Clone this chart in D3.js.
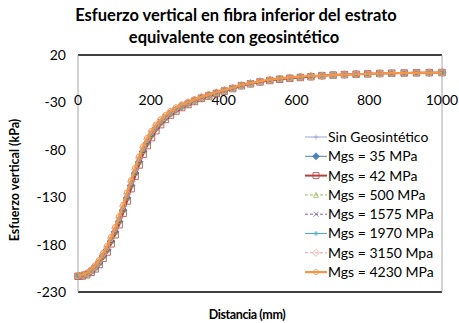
<!DOCTYPE html>
<html>
<head>
<meta charset="utf-8">
<script src="https://cdn.jsdelivr.net/npm/d3@7"></script>
<style>
  body { margin: 0; background: #fff; }
  svg { display: block; font-family: Lato, "Open Sans", sans-serif; }
</style>
</head>
<body>
<div id="chart"></div>
<script>
// distancia (mm) - nodos de la malla, mas densos cerca de la carga
const distancia = [0, 12, 24, 36, 47, 58, 69, 80, 91, 102, 113, 124, 135, 146, 157, 168, 179, 190, 202, 214,
  227, 240, 254, 269, 285, 302, 320, 339, 359, 380, 402, 425, 449, 474, 500, 527, 554, 582, 611, 640,
  670, 701, 732, 764, 796, 829, 862, 896, 930, 965, 1000];

const sinGeo = [-213.1, -212.7, -211.2, -208.3, -204.4, -199.5, -192.6, -185.7, -176.8, -166.9, -156, -144, -131, -118, -105, -93, -82, -72.9, -64.8, -57.7,
  -51.6, -46.5, -41.9, -37.9, -34.4, -31.3, -28.3, -25.2, -22.7, -20.2, -17.7, -15.1, -12.1, -10.1, -8.1, -6.6, -5.3, -4.3, -3.4, -2.6,
  -1.8, -1.2, -0.7, -0.3, 0.1, 0.5, 0.8, 1, 1.2, 1.4, 1.5];
const mgs35 = [-213, -212.6, -211.1, -208.2, -204.2, -199.3, -192.3, -185.4, -176.4, -166.5, -155.5, -143.5, -130.5, -117.5, -104.5, -92.5, -81.5, -72.5, -64.4, -57.4,
  -51.3, -46.3, -41.7, -37.7, -34.2, -31.2, -28.1, -25.1, -22.6, -20.1, -17.6, -15.1, -12.1, -10.1, -8.1, -6.6, -5.3, -4.3, -3.4, -2.6,
  -1.8, -1.2, -0.7, -0.3, 0.1, 0.5, 0.8, 1, 1.2, 1.4, 1.5];
const mgs42 = [-213.4, -213.1, -211.8, -209.2, -205.6, -201, -194.4, -187.8, -179.2, -169.6, -159, -147, -134, -121, -108, -96, -84.8, -75.6, -67.2, -59.8,
  -53.4, -48, -43.3, -39.1, -35.4, -32.2, -29, -25.8, -23.3, -20.6, -18.1, -15.4, -12.4, -10.4, -8.4, -6.9, -5.6, -4.6, -3.7, -2.9,
  -1.8, -1.2, -0.7, -0.3, 0.1, 0.5, 0.8, 1, 1.2, 1.4, 1.5];
const mgs500 = [-213, -212.5, -211, -208, -204, -199, -192, -185, -176, -166, -155, -143, -130, -117, -104, -92, -81, -72, -64, -57,
  -51, -46, -41.5, -37.5, -34, -31, -28, -25, -22.5, -20, -17.5, -15, -12, -10, -8, -6.5, -5.2, -4.2, -3.3, -2.5,
  -1.8, -1.2, -0.7, -0.3, 0.1, 0.5, 0.8, 1, 1.2, 1.4, 1.5];
const mgs1575 = [-212.9, -212.3, -210.7, -207.5, -203.4, -198.3, -191.1, -183.9, -174.8, -164.7, -153.5, -141.5, -128.5, -115.5, -102.5, -90.5, -79.6, -70.7, -62.8, -56,
  -50.1, -45.3, -40.8, -36.9, -33.5, -30.6, -27.6, -24.7, -22.2, -19.8, -17.3, -14.9, -11.9, -9.9, -7.9, -6.4, -5.1, -4.1, -3.2, -2.4,
  -1.8, -1.2, -0.7, -0.3, 0.1, 0.5, 0.8, 1, 1.2, 1.4, 1.5];
const mgs1970 = [-212.8, -212.2, -210.6, -207.4, -203.2, -198, -190.8, -183.6, -174.4, -164.2, -153, -141, -128, -115, -102, -90, -79.1, -70.2, -62.4, -55.6,
  -49.8, -45, -40.6, -36.7, -33.3, -30.4, -27.5, -24.6, -22.1, -19.7, -17.2, -14.8, -11.8, -9.8, -7.8, -6.3, -5, -4, -3.1, -2.3,
  -1.8, -1.2, -0.7, -0.3, 0.1, 0.5, 0.8, 1, 1.2, 1.4, 1.5];
const mgs3150 = [-212.7, -212, -210.3, -207, -202.6, -197.3, -189.9, -182.6, -173.2, -162.9, -151.5, -139.5, -126.5, -113.5, -100.5, -88.5, -77.7, -68.9, -61.2, -54.6,
  -48.9, -44.3, -39.9, -36.1, -32.8, -30, -27.1, -24.3, -21.8, -19.5, -17, -14.7, -11.7, -9.7, -7.7, -6.2, -4.9, -3.9, -3, -2.2,
  -1.8, -1.2, -0.7, -0.3, 0.1, 0.5, 0.8, 1, 1.2, 1.4, 1.5];
const mgs4230 = [-212.5, -211.8, -210, -206.5, -202, -196.5, -189, -181.5, -172, -161.5, -150, -138, -125, -112, -99, -87, -76.3, -67.5, -60, -53.5,
  -48, -43.5, -39.3, -35.5, -32.3, -29.5, -26.8, -24, -21.5, -19.3, -16.8, -14.5, -11.5, -9.5, -7.5, -6, -4.7, -3.7, -2.8, -2,
  -1.8, -1.2, -0.7, -0.3, 0.1, 0.5, 0.8, 1, 1.2, 1.4, 1.5];

const seriesNames = ['Sin Geosintético', 'Mgs = 35 MPa', 'Mgs = 42 MPa', 'Mgs = 500 MPa',
  'Mgs = 1575 MPa', 'Mgs = 1970 MPa', 'Mgs = 3150 Mpa', 'Mgs = 4230 MPa'];
const yTicks = [20, -30, -80, -130, -180, -230];
const xTicks = [0, 200, 400, 600, 800, 1000];

const width = 459, height = 323;
const plot = { left: 78, right: 442, top: 55, bottom: 292 };

// estilo de cada serie (color, grosor, guiones, marcador)
const styles = [
  { color: '#98a6d6', w: 1,   dash: null,  mark: 'plus' },
  { color: '#4f81bd', w: 1,   dash: null,  mark: 'diamondFill' },
  { color: '#b8403d', w: 2,   dash: null,  mark: 'square' },
  { color: '#9bbb59', w: 1,   dash: '3,2', mark: 'triangle' },
  { color: '#8064a2', w: 1,   dash: '3,2', mark: 'cross' },
  { color: '#4bacc6', w: 1,   dash: null,  mark: 'star' },
  { color: '#e6a3a1', w: 1,   dash: '3,2', mark: 'diamond' },
  { color: '#f79646', w: 2.2, dash: null,  mark: 'circle' }
];
const allSeries = [sinGeo, mgs35, mgs42, mgs500, mgs1575, mgs1970, mgs3150, mgs4230];

const svg = d3.select('#chart').append('svg')
  .attr('width', width)
  .attr('height', height);

const x = d3.scaleLinear().domain([0, 1000]).range([plot.left, plot.right]);
const y = d3.scaleLinear().domain([-230, 20]).range([plot.bottom, plot.top]);

// marco del area de grafico
svg.append('line').attr('x1', plot.left).attr('x2', plot.right).attr('y1', plot.top).attr('y2', plot.top)
  .attr('stroke', '#000').attr('stroke-width', 1.3);
svg.append('line').attr('x1', plot.left).attr('x2', plot.right).attr('y1', plot.bottom).attr('y2', plot.bottom)
  .attr('stroke', '#000').attr('stroke-width', 1.3);
svg.append('line').attr('x1', plot.left).attr('x2', plot.left).attr('y1', plot.top).attr('y2', plot.bottom)
  .attr('stroke', '#a6a6a6').attr('stroke-width', 1);
svg.append('line').attr('x1', plot.right).attr('x2', plot.right).attr('y1', plot.top).attr('y2', plot.bottom)
  .attr('stroke', '#a6a6a6').attr('stroke-width', 1);

// etiquetas eje y
svg.append('g').selectAll('text')
  .data(yTicks).enter().append('text')
  .attr('x', 66)
  .attr('y', d => y(d))
  .attr('dy', '0.35em')
  .attr('text-anchor', 'end')
  .style('font-size', '14px')
  .text(d => d);

// etiquetas eje x (el eje corta en y = 0)
svg.append('g').selectAll('text')
  .data(xTicks).enter().append('text')
  .attr('x', d => x(d))
  .attr('y', y(0) + 26)
  .attr('dy', '0.35em')
  .attr('text-anchor', 'middle')
  .style('font-size', '14px')
  .text(d => d);

function markerPath(type, s) {
  const h = s / 2;
  switch (type) {
    case 'square': return `M${-h},${-h}h${s}v${s}h${-s}z`;
    case 'diamond':
    case 'diamondFill': return `M0,${-h - 1}L${h + 1},0L0,${h + 1}L${-h - 1},0z`;
    case 'triangle': return `M0,${-h}L${h},${h}L${-h},${h}z`;
    case 'cross': return `M${-h},${-h}L${h},${h}M${-h},${h}L${h},${-h}`;
    case 'plus': return `M${-h},0H${h}M0,${-h}V${h}`;
    case 'star': return `M${-h},0H${h}M0,${-h}V${h}M${-h*0.7},${-h*0.7}L${h*0.7},${h*0.7}M${-h*0.7},${h*0.7}L${h*0.7},${-h*0.7}`;
    default: return d3.symbol(d3.symbolCircle, s * s * 0.8)();
  }
}

const line = d3.line()
  .x(d => x(d[0]))
  .y(d => y(d[1]));

allSeries.forEach((vals, i) => {
  const st = styles[i];
  const pts = distancia.map((d, j) => [d, vals[j]]);
  const g = svg.append('g');
  g.append('path')
    .datum(pts)
    .attr('d', line)
    .attr('fill', 'none')
    .attr('stroke', st.color)
    .attr('stroke-width', st.w)
    .attr('stroke-dasharray', st.dash);
  g.selectAll('path.mk')
    .data(pts).enter().append('path')
    .attr('class', 'mk')
    .attr('transform', d => `translate(${x(d[0])},${y(d[1])})`)
    .attr('d', markerPath(st.mark, st.mark === 'square' ? 6.5 : 5.5))
    .attr('fill', st.mark === 'diamondFill' ? st.color : 'none')
    .attr('fill-opacity', 0.9)
    .attr('stroke', st.color)
    .attr('stroke-width', 0.8);
});

// leyenda
const legend = svg.append('g');
seriesNames.forEach((name, i) => {
  const st = styles[i];
  const ly = 137 + i * 19.3;
  legend.append('line')
    .attr('x1', 305).attr('x2', 327).attr('y1', ly).attr('y2', ly)
    .attr('stroke', st.color).attr('stroke-width', st.w)
    .attr('stroke-dasharray', st.dash);
  legend.append('path')
    .attr('transform', `translate(316,${ly})`)
    .attr('d', markerPath(st.mark, st.mark === 'square' ? 6 : 5))
    .attr('fill', st.mark === 'diamondFill' ? st.color : 'none')
    .attr('stroke', st.color)
    .attr('stroke-width', 0.8);
  legend.append('text')
    .attr('x', 328)
    .attr('y', ly)
    .attr('dy', '0.35em')
    .style('font-size', '14px')
    .text(name);
});

// titulos
svg.append('text')
  .attr('x', 236).attr('y', 21)
  .attr('text-anchor', 'middle')
  .style('font-size', '16.5px').style('font-weight', 'bold')
  .text('Esfuerzo vertical en fibra inferior del estrato');
svg.append('text')
  .attr('x', 234).attr('y', 43)
  .attr('text-anchor', 'middle')
  .style('font-size', '16.5px').style('font-weight', 'bold')
  .text('equivalente con geosintético');

svg.append('text')
  .attr('x', 247).attr('y', 315)
  .attr('dy', '0.35em')
  .attr('text-anchor', 'middle')
  .style('font-size', '12.5px').style('font-weight', 'bold')
  .style('letter-spacing', '-0.4px')
  .text('Distancia (mm)');

svg.append('text')
  .attr('transform', 'translate(15,180) rotate(-90)')
  .attr('dy', '0.35em')
  .attr('text-anchor', 'middle')
  .style('font-size', '12.5px').style('font-weight', 'bold')
  .text('Esfuerzo vertical (kPa)');
</script>
</body>
</html>
